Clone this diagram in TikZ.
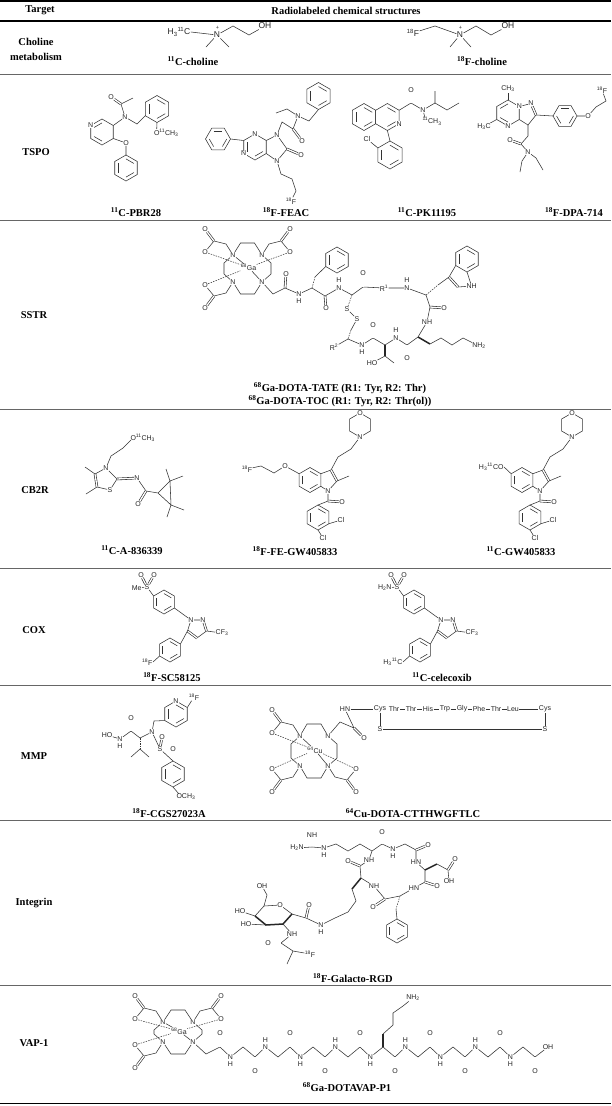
\documentclass[tikz,border=0pt]{standalone}
\usepackage{fontspec}
\setmainfont{Liberation Serif}
\newfontfamily\chemfont{Liberation Sans}
\usetikzlibrary{calc,positioning}

% ring helpers (relative moves, so they also work in shifted scopes)
\newcommand{\hexring}[3]{%
  \draw[bond] (#1) ++(#3:#2) -- ++(#3+120:#2) -- ++(#3+180:#2) -- ++(#3+240:#2)
    -- ++(#3+300:#2) -- ++(#3:#2) -- cycle;}
\newcommand{\innerbond}[3]{%
  \draw[bond] (#1) ++(#3:0.7*#2) -- ++(#3+120:0.7*#2);}
\newcommand{\benzring}[3]{%
  \hexring{#1}{#2}{#3}
  \innerbond{#1}{#2}{#3}
  \innerbond{#1}{#2}{#3+120}
  \innerbond{#1}{#2}{#3+240}}
% carboxylate arm of the DOTA cage
\newcommand{\acidarm}[4]{%
  \coordinate (#1ch) at ($(#2)+({7*(#3)},{-11*(#4)})$);
  \coordinate (#1c) at ($(#1ch)+({12*(#3)},{-3*(#4)})$);
  \node[atom] (#1o) at ($(#1c)+({9*(#3)},{-12*(#4)})$) {O};
  \node[atom] (#1ol) at ($(#1c)+({9*(#3)},{11*(#4)})$) {O};
  \draw[bond] (#2) -- (#1ch) -- (#1c) -- (#1ol);
  \draw[dbond] (#1c) -- (#1o);}
% DOTA cage with metal
\newcommand{\dotacage}[6]{%
  \node[atom] (#1n1) at (#2-#6,#3-#5) {N};
  \node[atom] (#1n2) at (#2+#6,#3-#5) {N};
  \node[atom] (#1n3) at (#2-#6,#3+#5) {N};
  \node[atom] (#1n4) at (#2+#6,#3+#5) {N};
  \node[atom] (#1m) at (#2+1,#3-1) {#4};
  \draw[bond] (#1n1) -- (#2-7,#3-#5-12) -- (#2+7,#3-#5-12) -- (#1n2);
  \draw[bond] (#1n3) -- (#2-7,#3+#5+12) -- (#2+7,#3+#5+12) -- (#1n4);
  \draw[bond] (#1n1) -- (#2-#6-9,#3-#5+8) -- (#2-#6-9,#3+#5-8) -- (#1n3);
  \draw[bond] (#1n2) -- (#2+#6+9,#3-#5+8) -- (#2+#6+9,#3+#5-8) -- (#1n4);
  \draw[bond] (#1n1) -- (#1m) -- (#1n4);
  \acidarm{#1tl}{#1n1}{-1}{1}
  \acidarm{#1bl}{#1n3}{-1}{-1}
  \draw[hbond] (#1tlol) -- (#1m);
  \draw[hbond] (#1blol) -- (#1m);}
% indole core of the GW405833 pair
\newcommand{\gwcore}[2]{%
  \begin{scope}[shift={(#2,0)}]
  \benzring{310,480}{12.5}{30}
  \coordinate (#1c3) at (331,470);
  \coordinate (#1c2) at (337,481);
  \node[atom] (#1n1) at (328,491) {N};
  \draw[bond] (320.8,473.75) -- (#1c3);
  \draw[dbond] (#1c3) -- (#1c2);
  \draw[bond] (#1c2) -- (#1n1) -- (320.8,486.25);
  \draw[bond] (#1c2) -- (349,476);
  \hexring{360,425}{12}{30}
  \node[atom] (#1mo) at (360,413) {O};
  \node[atom] (#1mn) at (360,437) {N};
  \draw[bond] (#1c3) -- (338,457) -- (351,449) -- (#1mn);
  \coordinate (#1cc) at (328,501);
  \node[atom] (#1co) at (342,502) {O};
  \draw[bond] (#1n1) -- (#1cc) -- (318,505);
  \draw[dbond] (#1cc) -- (#1co);
  \benzring{318,517.5}{12.5}{30}
  \node[atom] (#1cla) at (341,520) {Cl};
  \node[atom] (#1clb) at (323,538) {Cl};
  \draw[bond] (328.8,523.75) -- (#1cla);
  \draw[bond] (318,530) -- (#1clb);
  \end{scope}}
% diaryl pyrazole core of the COX pair
\newcommand{\coxcore}[4]{%
  \begin{scope}[shift={(#2,0)}]
  \node[atom] (#1s) at (155,587) {S};
  \node[atom] (#1o1) at (149,575) {O};
  \node[atom] (#1o2) at (162,575) {O};
  \node[atom, anchor=east] (#1l) at (150,588) {#3};
  \draw[dbond] (#1s) -- (#1o1);
  \draw[dbond] (#1s) -- (#1o2);
  \draw[bond] (#1l) -- (#1s) -- (161.6,596);
  \benzring{172,602}{12}{30}
  \node[atom] (#1n1) at (199,620) {N};
  \node[atom] (#1n2) at (211,620) {N};
  \coordinate (#1c3) at (214.5,631);
  \coordinate (#1c4) at (205,638);
  \coordinate (#1c5) at (195.5,631);
  \draw[bond] (182.4,608) -- (#1n1) -- (#1n2);
  \draw[dbond] (#1n2) -- (#1c3);
  \draw[bond] (#1c3) -- (#1c4);
  \draw[dbond] (#1c4) -- (#1c5);
  \draw[bond] (#1c5) -- (#1n1);
  \node[atom] (#1cf) at (230,633) {CF\textsubscript{3}};
  \draw[bond] (#1c3) -- (#1cf);
  \benzring{178,650}{12}{30}
  \draw[bond] (#1c5) -- (188.4,644);
  \node[atom, anchor=east] (#1p) at (161,662) {#4};
  \draw[bond] (167.6,656) -- (#1p.east);
  \end{scope}}

\begin{document}
\begin{tikzpicture}[x=1pt, y=-1pt,
    bond/.style={draw=black!80, line width=0.55pt},
    dbond/.style={draw=black!85, line width=0.6pt, double=white, double distance=1.3pt},
    hbond/.style={draw=black!80, line width=0.5pt, dash pattern=on 1.5pt off 1.1pt},
    wbond/.style={draw=black!85, line width=1.5pt},
    atom/.style={font=\chemfont\fontsize{7}{8}\selectfont, text=black!85, inner sep=0.3pt, fill=white},
    atomL/.style={atom, font=\chemfont\fontsize{8.5}{9}\selectfont},
    rowlab/.style={font=\bfseries\fontsize{10.5}{15}\selectfont, align=center},
    cmpd/.style={font=\bfseries\fontsize{10.5}{11}\selectfont, inner sep=0.6pt},
    rowrule/.style={draw=black!60, line width=0.9pt},
    toprule/.style={draw=black, line width=1.6pt}]
\useasboundingbox (0,0) rectangle (611,1106);
\fill[white] (0,0) rectangle (611,1106);

% table rules
\draw[toprule] (0,1.2) -- (611,1.2);
\draw[toprule, line width=1.2pt] (0,21) -- (611,21);
\draw[rowrule] (0,74) -- (611,74);
\draw[rowrule] (0,220) -- (611,220);
\draw[rowrule] (0,409) -- (611,409);
\draw[rowrule] (0,568) -- (611,568);
\draw[rowrule] (0,685) -- (611,685);
\draw[rowrule] (0,820) -- (611,820);
\draw[rowrule] (0,985) -- (611,985);
\draw[toprule] (0,1103.5) -- (611,1103.5);

% header and row labels
\node[rowlab] (htarget) at (40,10.5) {Target};
\node[rowlab] (hstruct) at (346,10.5) {Radiolabeled chemical structures};
\node[rowlab] (lchol) at (36,49) {Choline\\metabolism};
\node[rowlab] (ltspo) at (36,152) {TSPO};
\node[rowlab] (lsstr) at (34,315) {SSTR};
\node[rowlab] (lcb2r) at (35,490) {CB2R};
\node[rowlab] (lcox) at (34,630) {COX};
\node[rowlab] (lmmp) at (34,756) {MMP};
\node[rowlab] (lint) at (34,903) {Integrin};
\node[rowlab] (lvap) at (34,1043) {VAP-1};

% ---------- choline ----------
\node[atomL] (me1) at (179,32) {H\textsubscript{3}\textsuperscript{11}C};
\node[atomL] (nq1) at (217,35) {N};
\node[atom, fill=none, font=\chemfont\fontsize{5.5}{6}\selectfont] (pq1) at (217.5,28) {+};
\coordinate (ca1) at (233,26);
\coordinate (cb1) at (249,35);
\node[atomL] (oh1) at (265,26) {OH};
\draw[bond] (me1.east) -- (nq1) -- (ca1) -- (cb1) -- (oh1);
\draw[bond] (nq1) -- (206,47);
\draw[bond] (nq1) -- (229,47);
\node[cmpd] (nchc) at (193,61) {\textsuperscript{11}C-choline};

\node[atomL] (f2) at (413,33) {\textsuperscript{18}F};
\coordinate (ca2) at (435,26);
\node[atomL] (nq2) at (460,35) {N};
\node[atom, fill=none, font=\chemfont\fontsize{5.5}{6}\selectfont] (pq2) at (460.5,28) {+};
\coordinate (cb2) at (476,26);
\coordinate (cc2) at (491,35);
\node[atomL] (oh2) at (508,26) {OH};
\draw[bond] (f2) -- (ca2) -- (nq2) -- (cb2) -- (cc2) -- (oh2);
\draw[bond] (nq2) -- (450,47);
\draw[bond] (nq2) -- (471,47);
\node[cmpd] (nchf) at (482,61) {\textsuperscript{18}F-choline};

% ---------- TSPO ----------
% PBR28
\hexring{102,132}{13}{30}
\innerbond{102,132}{13}{210}
\innerbond{102,132}{13}{90}
\node[atom] (pbn) at (90.7,125.5) {N};
\node[atom] (pbna) at (125,117) {N};
\coordinate (pbc) at (121,104);
\node[atom] (pbo) at (111,97) {O};
\draw[bond] (113.3,125.5) -- (pbna) -- (pbc) -- (133,98);
\draw[dbond] (pbc) -- (pbo);
\benzring{157,109}{13.5}{30}
\draw[bond] (pbna) -- (137,124) -- (145.3,115.75);
\node[atom, anchor=west] (pbome) at (153.5,132.5) {O\textsuperscript{11}CH\textsubscript{3}};
\draw[bond] (157,122.5) -- ($(pbome.west)+(3.2,-3.5)$);
\node[atom] (pbop) at (126,143) {O};
\draw[bond] (113.3,138.5) -- (pbop) -- (126,155);
\benzring{126,168}{13}{30}
\node[cmpd] (npbr) at (136,212) {\textsuperscript{11}C-PBR28};

% FEAC
\benzring{218,139}{12.5}{0}
\hexring{255,147}{13}{30}
\innerbond{255,147}{13}{150}
\innerbond{255,147}{13}{30}
\node[atom] (fen1) at (255,134) {N};
\node[atom] (fen3) at (243.7,153.5) {N};
\draw[bond] (230.5,139) -- (243.7,140.5);
\node[atom] (fen9) at (277,135) {N};
\node[atom] (fen7) at (277,161) {N};
\coordinate (fec8) at (287,149);
\node[atom] (feo8) at (301,155) {O};
\draw[bond] (266.3,140.5) -- (fen9) -- (fec8) -- (fen7) -- (266.3,153.5);
\draw[dbond] (fec8) -- (feo8);
\coordinate (fech) at (282,122);
\coordinate (feca) at (293,129);
\node[atom] (feoa) at (302,141) {O};
\node[atom] (fena) at (298,116) {N};
\draw[bond] (fen9) -- (fech) -- (feca) -- (fena);
\draw[dbond] (feca) -- (feoa);
\draw[bond] (fena) -- (287,109) -- (276,113);
\draw[bond] (fena) -- (309,121) -- (318.5,109.5);
\benzring{318.5,96}{13.5}{30}
\node[atom] (fef) at (291,201) {\textsuperscript{18}F};
\draw[bond] (fen7) -- (281,174) -- (292,179) -- (296,191) -- (fef);
\node[cmpd] (nfeac) at (286,212) {\textsuperscript{18}F-FEAC};

% PK11195
\benzring{364,117}{13.5}{30}
\hexring{387.4,117}{13.5}{30}
\innerbond{387.4,117}{13.5}{270}
\innerbond{387.4,117}{13.5}{30}
\node[atom] (pkn) at (399.1,123.75) {N};
\coordinate (pkc) at (411,103);
\node[atom] (pko) at (411,90) {O};
\node[atom] (pkna) at (423,110) {N};
\draw[bond] (399.1,110.25) -- (pkc) -- (pkna);
\draw[dbond] (pkc) -- (pko);
\node[atom, anchor=north west] (pkme) at (422,117) {\textsuperscript{11}CH\textsubscript{3}};
\draw[bond] (pkna) -- ($(pkme.north west)+(3,1)$);
\draw[bond] (pkna) -- (435,103) -- (435,91);
\draw[bond] (435,103) -- (447,110) -- (459,103);
\benzring{390,155}{14}{30}
\draw[bond] (387.4,130.5) -- (390,141);
\node[atom] (pkcl) at (367,139) {Cl};
\draw[bond] (377.9,148) -- (pkcl);
\node[cmpd] (npk) at (427,212) {\textsuperscript{11}C-PK11195};

% DPA-714
\hexring{508,113}{13}{30}
\innerbond{508,113}{13}{210}
\innerbond{508,113}{13}{90}
\node[atom] (dpn1) at (519.3,106.5) {N};
\node[atom] (dpn4) at (508,126) {N};
\node[atom] (dpme1) at (508,89) {CH\textsubscript{3}};
\draw[bond] (508,100) -- (dpme1);
\node[atom] (dpme2) at (484,126.5) {H\textsubscript{3}C};
\draw[bond] (496.7,119.5) -- (dpme2);
\node[atom] (dpn2) at (531,103.5) {N};
\coordinate (dpc2) at (536,115);
\coordinate (dpc3) at (528,125);
\draw[bond] (dpn1) -- (dpn2);
\draw[dbond] (dpn2) -- (dpc2);
\draw[bond] (dpc2) -- (dpc3) -- (519.3,119.5);
\benzring{565,116}{12}{0}
\draw[bond] (dpc2) -- (553,116);
\node[atom] (dpo) at (588,116) {O};
\node[atom] (dpf) at (602,90) {\textsuperscript{18}F};
\draw[bond] (577,116) -- (dpo) -- (596,107) -- (606,101) -- (dpf);
\coordinate (dpch) at (528,136);
\coordinate (dpca) at (521,144);
\node[atom] (dpoa) at (510,140) {O};
\node[atom] (dpna) at (528,152) {N};
\draw[bond] (dpc3) -- (dpch) -- (dpca) -- (dpna);
\draw[dbond] (dpca) -- (dpoa);
\draw[bond] (dpna) -- (522,161) -- (520,172);
\draw[bond] (dpna) -- (536,158) -- (543,170);
\node[cmpd] (ndpa) at (574,212) {\textsuperscript{18}F-DPA-714};

% ---------- SSTR ----------
\dotacage{s}{247.5}{268.5}{\textsuperscript{68}Ga}{13.5}{14.5}
\acidarm{str}{sn2}{1}{1}
\draw[hbond] (strol) -- (sm);
\coordinate (s1) at (273,294);
\coordinate (s2) at (285,288);
\node[atom] (so2) at (286,274) {O};
\node[atom] (sn3) at (299,294) {N};
\node[atom] (sh3) at (299,301.5) {H};
\coordinate (s4) at (312,288);
\coordinate (s5) at (325,296);
\node[atom] (so5) at (326,308) {O};
\node[atom] (sn6) at (339,288) {N};
\node[atom] (sh6) at (339,280.5) {H};
\coordinate (s7) at (352,295);
\coordinate (s8) at (363,287);
\node[atom] (so8) at (363,273) {O};
\node[atom] (sr1) at (384,288) {R\textsuperscript{1}};
\node[atom] (sn9) at (407,288) {N};
\node[atom] (sh9) at (407,280.5) {H};
\coordinate (s10) at (426,295);
\draw[bond] (sn4) -- (s1) -- (s2) -- (sn3) -- (s4) -- (s5) -- (sn6) -- (s7) -- (s8) -- (sr1) -- (sn9) -- (s10);
\draw[dbond] (s2) -- (so2);
\draw[dbond] (s5) -- (so5);
\draw[dbond] (s8) -- (so8);
\draw[hbond] (s4) -- (315,277);
\draw[bond] (315,277) -- (325.7,266.5);
\benzring{337,260}{13}{30}
\benzring{467,259}{13}{30}
\node[atom, anchor=west] (snh) at (466,286) {NH};
\draw[bond] (455.7,265.5) -- (449,277);
\draw[dbond] (449,277) -- (458,287);
\draw[bond] (458,287) -- (snh) -- (467,272);
\draw[hbond] (s10) -- (438,285);
\draw[bond] (438,285) -- (449,277);
\coordinate (s11) at (430,307);
\node[atom] (so11) at (444,308) {O};
\node[atom] (sn12) at (427,322) {NH};
\coordinate (s13) at (418,337);
\draw[bond] (s10) -- (s11) -- (sn12) -- (s13);
\draw[dbond] (s11) -- (so11);
\coordinate (s14) at (407,345);
\node[atom] (so14) at (407,358) {O};
\node[atom] (sn15) at (396,338) {N};
\node[atom] (sh15) at (396,330.5) {H};
\coordinate (s16) at (385,345);
\coordinate (s17) at (373,338);
\node[atom] (so17) at (373,325) {O};
\node[atom] (sn18) at (362,345) {N};
\node[atom] (sh18) at (362,352.5) {H};
\coordinate (s19) at (348,339);
\node[atom] (sr2) at (334,347) {R\textsuperscript{2}};
\draw[bond] (s13) -- (s14) -- (sn15) -- (s16) -- (s17) -- (sn18) -- (s19) -- (sr2);
\draw[dbond] (s14) -- (so14);
\draw[dbond] (s17) -- (so17);
\draw[wbond] (s16) -- (385,356);
\node[atom] (sho) at (372,363) {HO};
\draw[bond] (sho) -- (385,356) -- (394,363);
\node[atom] (snh2) at (479,346) {NH\textsubscript{2}};
\draw[wbond] (s13) -- (430,344);
\draw[bond] (430,344) -- (441,338) -- (452,345) -- (463,338) -- (snh2);
\node[atom] (ss1) at (347,309) {S};
\node[atom] (ss2) at (357,319) {S};
\draw[hbond] (s7) -- (ss1);
\draw[bond] (ss1) -- (ss2) -- (351,330);
\draw[hbond] (351,330) -- (s19);
\node[cmpd] (ntate) at (340,388) {\textsuperscript{68}Ga-DOTA-TATE (R1: Tyr, R2: Thr)};
\node[cmpd, below=0pt of ntate] (ntoc) {\textsuperscript{68}Ga-DOTA-TOC (R1: Tyr, R2: Thr(ol))};

% ---------- CB2R ----------
% A-836339
\node[atom] (an3) at (106,468) {N};
\coordinate (ac2) at (117,479);
\node[atom] (as1) at (110,490) {S};
\coordinate (ac5) at (97,487);
\coordinate (ac4) at (95,474);
\draw[bond] (an3) -- (ac2) -- (as1) -- (ac5);
\draw[dbond] (ac5) -- (ac4);
\draw[bond] (ac4) -- (an3);
\draw[bond] (ac4) -- (85,467);
\draw[bond] (ac5) -- (86,494);
\node[atom] (anx) at (137,478) {N};
\draw[dbond] (ac2) -- (anx);
\node[atom, anchor=west] (aome) at (130,438) {O\textsuperscript{11}CH\textsubscript{3}};
\draw[bond] (an3) -- (111,456) -- (123,448) -- ($(aome.west)+(1,2)$);
\coordinate (acc) at (146,491);
\node[atom] (aco) at (138,504) {O};
\draw[bond] (anx) -- (acc);
\draw[dbond] (acc) -- (aco);
\coordinate (ap1) at (158,493);
\coordinate (ap2) at (170,481);
\coordinate (ap3) at (171,505);
\draw[bond] (acc) -- (ap1) -- (ap2) -- (ap3) -- (ap1);
\draw[bond] (ap2) -- (166,469);
\draw[bond] (ap2) -- (183,476);
\draw[bond] (ap3) -- (167,517);
\draw[bond] (ap3) -- (184,510);
\node[cmpd] (na83) at (132,550) {\textsuperscript{11}C-A-836339};
% FE-GW405833 and GW405833
\gwcore{gwa}{0}
\node[atom] (gwao) at (285,466) {O};
\node[atom] (gwaf) at (247,469) {\textsuperscript{18}F};
\draw[bond] (299.2,473.75) -- (gwao) -- (274,473) -- (261,466) -- (gwaf);
\node[cmpd] (nfegw) at (295,551) {\textsuperscript{18}F-FE-GW405833};
\gwcore{gwb}{212}
\node[atom, anchor=east] (gwbo) at (504,467) {H\textsubscript{3}\textsuperscript{11}CO};
\draw[bond] (511.2,473.75) -- (gwbo.east);
\node[cmpd] (ngw) at (521,551) {\textsuperscript{11}C-GW405833};

% ---------- COX ----------
\coxcore{sc}{-8}{Me}{\textsuperscript{18}F}
\node[cmpd] (nsc) at (172,677) {\textsuperscript{18}F-SC58125};
\coxcore{ce}{242}{H\textsubscript{2}N}{H\textsubscript{3}\textsuperscript{11}C}
\node[cmpd] (ncel) at (442,677) {\textsuperscript{11}C-celecoxib};

% ---------- MMP ----------
% CGS27023A
\hexring{176,714}{13}{30}
\innerbond{176,714}{13}{270}
\innerbond{176,714}{13}{30}
\innerbond{176,714}{13}{150}
\node[atom] (csn) at (176,701) {N};
\node[atom] (csf) at (194,697) {\textsuperscript{18}F};
\draw[bond] (187.3,707.5) -- (csf);
\node[atom] (csns) at (152,732) {N};
\draw[bond] (164.7,720.5) -- (154,721) -- (csns);
\coordinate (csa) at (140,738);
\coordinate (csc) at (131,731);
\node[atom] (cso) at (131,718) {O};
\node[atom] (csnh) at (120,739) {N};
\node[atom] (csh) at (120,746) {H};
\node[atom] (csho) at (107,735) {HO};
\draw[bond] (csns) -- (csa) -- (csc) -- (csnh) -- (csho);
\draw[dbond] (csc) -- (cso);
\draw[hbond] (csa) -- (140,749);
\draw[bond] (131,757) -- (140,749) -- (149,757);
\node[atom] (css) at (160,749) {S};
\node[atom] (csso1) at (162,737) {O};
\node[atom] (csso2) at (173,749) {O};
\draw[bond] (csns) -- (css) -- (173,761);
\draw[dbond] (css) -- (csso1);
\draw[dbond] (css) -- (csso2);
\benzring{173,774}{13}{30}
\node[atom, anchor=west] (csome) at (176,797) {OCH\textsubscript{3}};
\draw[bond] (173,787) -- ($(csome.west)+(3,-3)$);
\node[cmpd] (ncgs) at (169,813) {\textsuperscript{18}F-CGS27023A};
% Cu-DOTA peptide
\dotacage{m}{314}{751}{\textsuperscript{64}Cu}{15}{14}
\acidarm{mbr}{mn4}{1}{-1}
\draw[hbond] (mbrol) -- (mm);
\coordinate (mtch) at (340,722);
\coordinate (mtc) at (354,728);
\node[atom] (mto) at (364,738) {O};
\node[atom] (mhn) at (345,709) {HN};
\draw[bond] (mn2) -- (mtch) -- (mtc) -- (mhn);
\draw[dbond] (mtc) -- (mto);
\node[atom] (cys1) at (380,709) {Cys};
\node[atom] (pr1) at (394,709) {Thr};
\node[atom] (pr2) at (411,709) {Thr};
\node[atom] (pr3) at (428,709) {His};
\node[atom] (pr4) at (445,709) {Trp};
\node[atom] (pr5) at (462,709) {Gly};
\node[atom] (pr6) at (479,709) {Phe};
\node[atom] (pr7) at (496,709) {Thr};
\node[atom] (pr8) at (513,709) {Leu};
\node[atom] (cys2) at (545,709) {Cys};
\draw[bond] (mhn) -- (cys1);
\draw[bond] (pr1) -- (pr2) -- (pr3) -- (pr4) -- (pr5) -- (pr6) -- (pr7) -- (pr8) -- (cys2);
\node[atom] (ms1) at (380,729) {S};
\node[atom] (ms2) at (545,729) {S};
\draw[bond] (cys1) -- (ms1) -- (ms2) -- (cys2);
\node[cmpd] (ncu) at (413,813) {\textsuperscript{64}Cu-DOTA-CTTHWGFTLC};

% ---------- Integrin ----------
\node[atom] (rgnh) at (312,835) {NH};
\coordinate (rgc) at (312,847);
\node[atom] (rgh2n) at (297,848) {H\textsubscript{2}N};
\node[atom] (rgne) at (324,848) {N};
\node[atom] (rgneh) at (324,855) {H};
\coordinate (rga) at (372,851);
\draw[dbond] (rgc) -- (rgnh);
\draw[bond] (rgh2n) -- (rgc) -- (rgne) -- (336,844) -- (348,851) -- (360,844) -- (rga);
\coordinate (rc1) at (382,844);
\node[atom] (ro1) at (382,832) {O};
\node[atom] (rn2) at (393,849) {N};
\node[atom] (rh2) at (393,856) {H};
\coordinate (rg2) at (405,844);
\coordinate (rc2) at (416,850);
\node[atom] (ro2) at (428,845) {O};
\node[atom] (rn3) at (416,862) {HN};
\coordinate (rad) at (425,870);
\coordinate (rc3) at (425,882);
\node[atom] (ro3) at (437,886) {O};
\node[atom] (rn4) at (414,888) {HN};
\coordinate (raf) at (400,896);
\coordinate (rc4) at (385,899);
\node[atom] (ro4) at (373,907) {O};
\node[atom] (rn5) at (374,886) {NH};
\coordinate (rak) at (361,878);
\coordinate (rc5) at (360,866);
\node[atom] (ro5) at (348,861) {O};
\node[atom] (rn1) at (369,860) {NH};
\draw[bond] (rga) -- (rc1) -- (rn2) -- (rg2) -- (rc2) -- (rn3) -- (rad) -- (rc3) -- (rn4) -- (raf) -- (rc4) -- (rn5) -- (rak) -- (rc5) -- (rn1) -- (rga);
\draw[dbond] (rc1) -- (ro1);
\draw[dbond] (rc2) -- (ro2);
\draw[dbond] (rc3) -- (ro3);
\draw[dbond] (rc4) -- (ro4);
\draw[dbond] (rc5) -- (ro5);
\node[atom] (rao) at (455,859) {O};
\node[atom] (raoh) at (449,881) {OH};
\draw[wbond] (rad) -- (437,864);
\draw[bond] (437,864) -- (448,870) -- (raoh);
\draw[dbond] (448,870) -- (rao);
\draw[hbond] (raf) -- (396,909);
\draw[bond] (396,909) -- (397,919);
\benzring{397,931}{12}{30}
\node[atom] (rkn) at (321,925) {N};
\node[atom] (rknh) at (321,932) {H};
\draw[wbond] (rak) -- (352,889);
\draw[bond] (352,889) -- (356,901) -- (348,912) -- (335,918) -- (rkn);
\coordinate (rsc) at (306,918);
\node[atom] (rso) at (309,905) {O};
\draw[bond] (rkn) -- (rsc) -- (292,914);
\draw[dbond] (rsc) -- (rso);
\node[atom] (rgo) at (280,905) {O};
\draw[bond] (292,914) -- (rgo) -- (264,906) -- (255,916);
\draw[wbond] (255,916) -- (266,925) -- (283,924) -- (292,914);
\node[atom] (rgoh6) at (262,886) {OH};
\draw[bond] (264,906) -- (267,895) -- (rgoh6);
\node[atom] (rgho4) at (240,911) {HO};
\draw[bond] (255,916) -- (rgho4);
\node[atom] (rgho3) at (246,924) {HO};
\draw[bond] (266,925) -- (rgho3);
\node[atom] (rgnh2) at (292,934) {NH};
\draw[bond] (283,924) -- (rgnh2);
\coordinate (rgac) at (281,943);
\node[atom] (rgao) at (268,943) {O};
\node[atom] (rgf) at (310,954) {\textsuperscript{18}F};
\draw[bond] (rgnh2) -- (rgac) -- (293,951) -- (rgf);
\draw[bond] (293,951) -- (287,964);
\draw[dbond] (rgac) -- (rgao);
\node[cmpd] (nrgd) at (353,978) {\textsuperscript{18}F-Galacto-RGD};

% ---------- VAP-1 ----------
\dotacage{v}{178}{1032}{\textsuperscript{68}Ga}{10}{15}
\acidarm{vtr}{vn2}{1}{1}
\draw[hbond] (vtrol) -- (vm);
\coordinate (pc0) at (220,1047);   \node[atom] (po0) at (220,1033) {O};
\node[atom] (pn0) at (230.5,1057) {N}; \node[atom] (ph0) at (230.5,1064) {H};
\coordinate (pa0) at (243,1047);
\coordinate (pc1) at (255,1057);   \node[atom] (po1) at (255,1071) {O};
\node[atom] (pn1) at (265.5,1047) {N}; \node[atom] (ph1) at (265.5,1040) {H};
\coordinate (pa1) at (278,1057);
\coordinate (pc2) at (290,1047);   \node[atom] (po2) at (290,1033) {O};
\node[atom] (pn2) at (300.5,1057) {N}; \node[atom] (ph2) at (300.5,1064) {H};
\coordinate (pa2) at (313,1047);
\coordinate (pc3) at (325,1057);   \node[atom] (po3) at (325,1071) {O};
\node[atom] (pn3) at (335.5,1047) {N}; \node[atom] (ph3) at (335.5,1040) {H};
\coordinate (pa3) at (348,1057);
\coordinate (pc4) at (360,1047);   \node[atom] (po4) at (360,1033) {O};
\node[atom] (pn4) at (370.5,1057) {N}; \node[atom] (ph4) at (370.5,1064) {H};
\coordinate (pa4) at (383,1047);
\coordinate (pc5) at (395,1057);   \node[atom] (po5) at (395,1071) {O};
\node[atom] (pn5) at (405.5,1047) {N}; \node[atom] (ph5) at (405.5,1040) {H};
\coordinate (pa5) at (418,1057);
\coordinate (pc6) at (430,1047);   \node[atom] (po6) at (430,1033) {O};
\node[atom] (pn6) at (440.5,1057) {N}; \node[atom] (ph6) at (440.5,1064) {H};
\coordinate (pa6) at (453,1047);
\coordinate (pc7) at (465,1057);   \node[atom] (po7) at (465,1071) {O};
\node[atom] (pn7) at (475.5,1047) {N}; \node[atom] (ph7) at (475.5,1040) {H};
\coordinate (pa7) at (488,1057);
\coordinate (pc8) at (500,1047);   \node[atom] (po8) at (500,1033) {O};
\node[atom] (pn8) at (510.5,1057) {N}; \node[atom] (ph8) at (510.5,1064) {H};
\coordinate (pa8) at (523,1047);
\coordinate (pc9) at (535,1057);   \node[atom] (po9) at (535,1071) {O};
\node[atom] (poh) at (548,1047) {OH};
\draw[bond] (vn4) -- (206,1054) -- (pc0) -- (pn0) -- (pa0) -- (pc1) -- (pn1) -- (pa1) -- (pc2) -- (pn2) -- (pa2) -- (pc3) -- (pn3) -- (pa3) -- (pc4) -- (pn4) -- (pa4) -- (pc5) -- (pn5) -- (pa5) -- (pc6) -- (pn6) -- (pa6) -- (pc7) -- (pn7) -- (pa7) -- (pc8) -- (pn8) -- (pa8) -- (pc9) -- (poh);
\draw[dbond] (pc0) -- (po0);
\draw[dbond] (pc1) -- (po1);
\draw[dbond] (pc2) -- (po2);
\draw[dbond] (pc3) -- (po3);
\draw[dbond] (pc4) -- (po4);
\draw[dbond] (pc5) -- (po5);
\draw[dbond] (pc6) -- (po6);
\draw[dbond] (pc7) -- (po7);
\draw[dbond] (pc8) -- (po8);
\draw[dbond] (pc9) -- (po9);
\node[atom] (pnh2) at (413,998) {NH\textsubscript{2}};
\draw[wbond] (pa4) -- (383,1034);
\draw[bond] (383,1034) -- (393,1025) -- (393,1013) -- (403,1006) -- (pnh2);
\node[cmpd] (nvap) at (347,1087) {\textsuperscript{68}Ga-DOTAVAP-P1};
\end{tikzpicture}
\end{document}
